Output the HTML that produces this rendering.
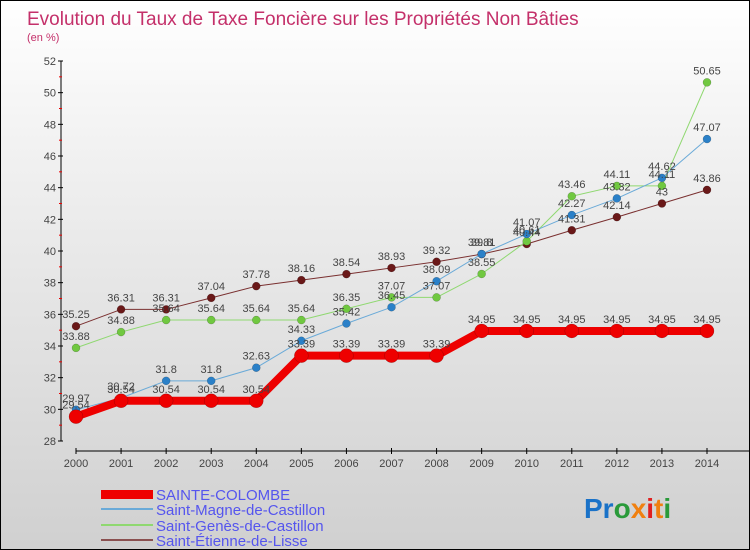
<!DOCTYPE html>
<html><head><meta charset="utf-8"><style>
body{margin:0}
#c{width:750px;height:550px;position:relative;box-sizing:border-box;border:1px solid #000;background:linear-gradient(#fff,#f0f0f0 30%,#d0d0d0);font-family:"Liberation Sans",sans-serif;overflow:hidden}
</style></head><body>
<div id="c">
<svg id="s" width="750" height="550" style="position:absolute;left:0;top:0">
<text x="26" y="24" font-size="19" fill="#c4306a">Evolution du Taux de Taxe Foncière sur les Propriétés Non Bâties</text>
<text x="26" y="40" font-size="11" fill="#c4306a">(en %)</text>
<g id="ax"></g><g id="ser"></g><g id="lab"></g>
<g font-size="15" fill="#5555ee">
<rect x="100" y="489" width="52" height="9" fill="#e00"/>
<text x="155" y="499">SAINTE-COLOMBE</text>
<rect x="100" y="507" width="52" height="2" fill="#6aaad8"/>
<text x="155" y="514">Saint-Magne-de-Castillon</text>
<rect x="100" y="523" width="52" height="2" fill="#8fd870"/>
<text x="155" y="530">Saint-Genès-de-Castillon</text>
<rect x="100" y="538" width="52" height="2" fill="#8a5050"/>
<text x="155" y="545">Saint-Étienne-de-Lisse</text>
</g>
<text x="583" y="517" font-size="28" font-weight="bold"><tspan fill="#1a72c8">Pr</tspan><tspan fill="#2a9a3a">o</tspan><tspan fill="#f08010">x</tspan><tspan fill="#e02020">i</tspan><tspan fill="#f08010">t</tspan><tspan fill="#2a9a3a">i</tspan></text>
</svg>
</div>
<script>
const years=[2000,2001,2002,2003,2004,2005,2006,2007,2008,2009,2010,2011,2012,2013,2014];
const yTicks=[28,30,32,34,36,38,40,42,44,46,48,50,52];
const sainteColombe=[29.54,30.54,30.54,30.54,30.54,33.39,33.39,33.39,33.39,34.95,34.95,34.95,34.95,34.95,34.95];
const saintMagne=[29.97,30.72,31.8,31.8,32.63,34.33,35.42,36.45,38.09,39.81,41.07,42.27,43.32,44.62,47.07];
const saintGenes=[33.88,34.88,35.64,35.64,35.64,35.64,36.35,37.07,37.07,38.55,40.61,43.46,44.11,44.11,50.65];
const saintEtienne=[35.25,36.31,36.31,37.04,37.78,38.16,38.54,38.93,39.32,39.8,40.44,41.31,42.14,43,43.86];
const NS='http://www.w3.org/2000/svg';
const X=i=>75+i*(631/14);
const Y=v=>440-(v-28)*(380/24);
function mk(t,a,p){const e=document.createElementNS(NS,t);for(const k in a)e.setAttribute(k,a[k]);p.appendChild(e);return e;}
const ax=document.getElementById('ax'),ser=document.getElementById('ser'),lab=document.getElementById('lab');
let l=mk('line',{x1:60,y1:60,x2:60,y2:440,stroke:'#000','stroke-width':1},ax);


l=mk('line',{x1:75,y1:450,x2:750,y2:450,stroke:'#000','stroke-width':1},ax);


yTicks.forEach(v=>{
 mk('line',{x1:57,x2:62,y1:Y(v),y2:Y(v),stroke:'#000'},ax);
 if(v<52)mk('line',{x1:58,x2:61,y1:Y(v+1),y2:Y(v+1),stroke:'#e00'},ax);
 const t=mk('text',{x:55,y:Y(v)+4,'font-size':11,fill:'#444','text-anchor':'end'},ax);t.textContent=v;
 
 
});
years.forEach((y,i)=>{
 mk('line',{x1:X(i),x2:X(i),y1:447,y2:453,stroke:'#000'},ax);
 const t=mk('text',{x:X(i),y:466,'font-size':11,fill:'#444','text-anchor':'middle'},ax);t.textContent=y;
 
 
});
function series(d,col,w,r,name,dotcol){
 const g=mk('g',{},ser);
 
 
 const p=mk('polyline',{points:d.map((v,i)=>X(i)+','+Y(v)).join(' '),fill:'none',stroke:col,'stroke-width':w,'stroke-linejoin':'round'},g);
 
 
 d.forEach((v,i)=>{
  const c=mk('circle',{cx:X(i),cy:Y(v),r:r,fill:dotcol,stroke:'rgba(0,0,0,0.3)','stroke-width':0.5},g);
  
  
  const t=mk('text',{x:X(i),y:Y(v)-8,'font-size':11,fill:'#444','text-anchor':'middle'},lab);t.textContent=v;
  
  
 });
}
series(saintEtienne,'#7a3030',1,4,'saint-etienne','#6a1818');
series(saintGenes,'#8fd870',1,4,'saint-genes','#70c840');
series(saintMagne,'#6aaad8',1,4,'saint-magne','#2a80c8');
series(sainteColombe,'#e00',8,7,'sainte-colombe','#e00');
</script>
</body></html>
